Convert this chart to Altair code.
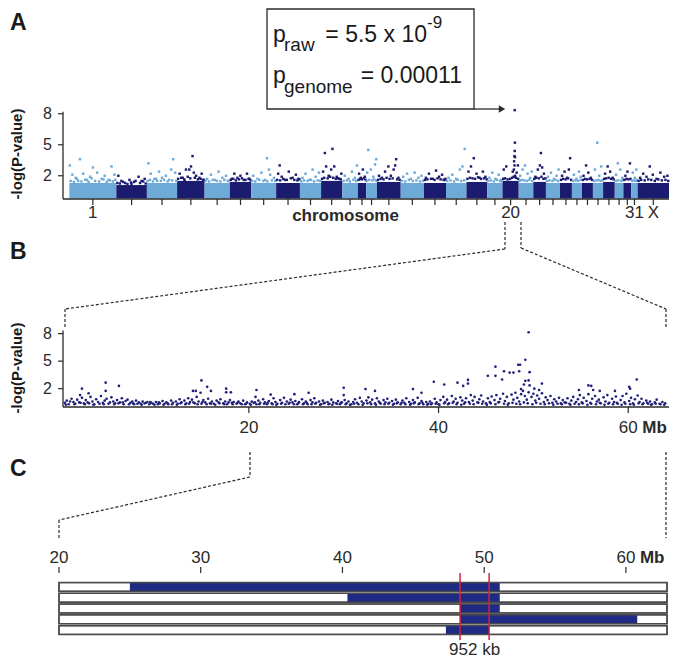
import altair as alt
import pandas as pd

FONT = "Liberation Sans, Arial, Helvetica, sans-serif"
LIGHT = "#6eaad8"
NAVY = "#1b1b70"
DOT = "#20207a"
BARBLUE = "#1f2a84"
RED = "#d0243a"
INK = "#2a2a2a"

# ---------------- Panel A : genome-wide scan ----------------
CHR_NAMES = ["1", "2", "3", "4", "5", "6", "7", "8", "9", "10", "11", "12", "13", "14", "15", "16",
             "17", "18", "19", "20", "21", "22", "23", "24", "25", "26", "27", "28", "29", "30", "31", "X"]
CHR_LEN = [185.8, 120.9, 119.5, 108.6, 99.7, 84.7, 98.5, 94.1, 83.6, 83.9, 61.3, 33.1, 42.6, 94.0, 91.6, 87.4,
           80.8, 82.5, 60.0, 64.2, 57.7, 49.9, 55.7, 47.0, 40.0, 43.1, 40.2, 46.2, 34.0, 31.3, 25.0, 124.1]
BAND_TOP = [1.3, 1.1, 1.3, 1.5, 1.3, 1.4, 1.3, 1.3, 1.3, 1.5, 1.3, 1.3, 1.3, 1.4, 1.3, 1.3,
            1.3, 1.4, 1.3, 1.5, 1.3, 1.4, 1.3, 1.3, 1.3, 1.3, 1.3, 1.4, 1.3, 1.3, 1.3, 1.3]
A_POINTS = {
    "1": [(2, 3.0), (42, 3.6), (93, 2.8), (167, 2.9), (12, 2.1), (25, 1.8), (55, 2.2), (70, 1.6), (110, 2.3),
          (128, 1.7), (140, 2.0), (155, 1.6), (178, 2.1), (35, 1.5), (82, 1.9)],
    "2": [(8, 2.0), (20, 1.5), (35, 1.3), (52, 1.6), (70, 1.4), (88, 1.9), (100, 1.5), (112, 1.7), (60, 1.2)],
    "3": [(6, 3.2), (104, 3.6), (15, 2.2), (30, 1.7), (48, 2.4), (60, 1.8), (75, 2.0), (88, 1.6), (96, 2.6),
          (112, 2.3), (40, 1.5)],
    "4": [(61, 3.9), (10, 2.2), (22, 1.8), (35, 2.6), (48, 2.6), (55, 2.9), (66, 2.3), (75, 2.0), (88, 1.8),
          (97, 2.2), (103, 1.6), (30, 1.5)],
    "5": [(10, 1.7), (25, 2.1), (40, 1.6), (55, 2.4), (70, 1.8), (85, 2.0), (95, 1.5)],
    "6": [(8, 1.7), (18, 2.2), (30, 1.8), (42, 2.0), (55, 1.6), (68, 2.2), (78, 1.7)],
    "7": [(62, 3.7), (8, 2.0), (25, 1.7), (40, 2.3), (55, 1.6), (75, 2.1), (90, 1.8), (70, 2.6)],
    "8": [(14, 3.0), (8, 2.2), (22, 1.9), (35, 1.6), (50, 2.4), (65, 1.8), (78, 2.1), (88, 1.7)],
    "9": [(10, 1.8), (22, 2.2), (38, 1.6), (50, 2.6), (62, 1.9), (75, 2.3)],
    "10": [(15, 4.2), (45, 4.6), (8, 2.4), (20, 2.9), (30, 2.0), (40, 2.6), (52, 2.9), (62, 1.9), (72, 1.7),
           (80, 2.2)],
    "11": [(10, 2.0), (25, 1.7), (38, 2.4), (50, 1.8), (58, 3.0)],
    "12": [(5, 2.2), (12, 1.8), (20, 2.6), (28, 1.9)],
    "13": [(8, 4.5), (40, 3.6), (4, 2.3), (18, 2.6), (28, 1.9), (35, 3.1)],
    "14": [(76, 3.6), (8, 2.0), (20, 1.8), (32, 2.4), (45, 2.9), (55, 2.0), (66, 2.6), (72, 3.0), (85, 1.8)],
    "15": [(10, 1.9), (25, 2.2), (40, 1.7), (55, 2.3), (70, 1.8), (82, 2.0)],
    "16": [(8, 1.8), (20, 2.2), (35, 1.7), (48, 2.5), (60, 1.9), (72, 2.1), (82, 1.6)],
    "17": [(74, 4.6), (10, 1.8), (25, 2.1), (40, 1.7), (55, 2.6), (65, 2.9)],
    "18": [(29, 3.7), (8, 2.4), (18, 2.9), (40, 2.2), (52, 1.8), (65, 2.4), (75, 1.9)],
    "19": [(8, 1.8), (20, 2.3), (32, 1.7), (45, 2.1), (55, 1.6)],
    "20": [(48.3, 8.35), (49.1, 5.2), (48.5, 4.4), (47.0, 3.9), (46.0, 3.4), (49.6, 3.8), (47.5, 3.0),
           (45.2, 2.6), (40.6, 2.4), (15.0, 2.9), (4.9, 2.6), (56.0, 2.3), (60.9, 3.0)],
    "21": [(6, 2.0), (15, 2.6), (25, 3.0), (35, 2.2), (45, 1.8), (52, 2.4)],
    "22": [(30, 4.2), (8, 1.9), (18, 2.6), (26, 3.0), (35, 2.8), (42, 2.2)],
    "23": [(8, 1.9), (20, 2.3), (32, 1.7), (42, 2.0), (50, 2.6)],
    "24": [(40, 3.7), (8, 2.0), (18, 2.4), (28, 1.8), (35, 2.6)],
    "25": [(8, 2.1), (18, 1.7), (28, 2.4), (35, 1.9)],
    "26": [(16, 3.0), (6, 2.0), (25, 2.3), (35, 1.8)],
    "27": [(17, 5.2), (8, 2.6), (25, 2.0), (33, 2.9)],
    "28": [(8, 2.2), (18, 2.9), (28, 2.4), (38, 1.8)],
    "29": [(12, 3.2), (5, 2.1), (22, 2.6), (30, 1.8)],
    "30": [(26, 3.2), (8, 2.0), (16, 2.4)],
    "31": [(6, 2.3), (14, 1.8), (20, 2.6)],
    "X": [(48, 2.9), (10, 1.8), (22, 2.2), (35, 1.9), (60, 2.1), (75, 1.7), (90, 2.3), (105, 1.9), (118, 2.0)],
}
# markers just above the dense band (the fuzzy band top)
A_FUZZ = {
    "1": [(5, 1.5), (18, 1.4), (30, 1.7), (48, 1.45), (63, 1.6), (76, 1.4), (88, 1.75), (102, 1.5), (118, 1.45),
          (135, 1.65), (148, 1.4), (160, 1.55), (172, 1.45), (182, 1.6)],
    "2": [(4, 1.3), (14, 1.25), (27, 1.4), (44, 1.2), (58, 1.35), (76, 1.5), (94, 1.3), (106, 1.45), (116, 1.25)],
    "3": [(3, 1.5), (12, 1.6), (24, 1.45), (36, 1.7), (55, 1.5), (68, 1.6), (82, 1.45), (100, 1.55), (116, 1.5)],
    "4": [(4, 1.7), (16, 1.8), (28, 1.65), (42, 1.9), (52, 1.75), (70, 1.8), (82, 1.65), (93, 1.7), (106, 1.6)],
    "5": [(5, 1.5), (18, 1.45), (32, 1.6), (48, 1.5), (62, 1.45), (78, 1.6), (92, 1.5)],
    "6": [(4, 1.6), (14, 1.7), (24, 1.55), (36, 1.65), (48, 1.75), (62, 1.6), (74, 1.7), (82, 1.55)],
    "7": [(4, 1.5), (16, 1.45), (32, 1.6), (48, 1.5), (64, 1.45), (82, 1.55), (95, 1.5)],
    "8": [(4, 1.6), (16, 1.55), (28, 1.7), (42, 1.6), (58, 1.75), (72, 1.6), (84, 1.55), (92, 1.65)],
    "9": [(5, 1.45), (16, 1.55), (30, 1.5), (44, 1.6), (56, 1.45), (70, 1.55), (80, 1.5)],
    "10": [(4, 1.7), (12, 1.8), (26, 1.75), (36, 1.9), (48, 1.8), (58, 1.7), (68, 1.75), (78, 1.65)],
    "11": [(5, 1.5), (18, 1.55), (30, 1.45), (44, 1.6), (55, 1.5)],
    "12": [(3, 1.6), (9, 1.7), (16, 1.65), (24, 1.75), (31, 1.6)],
    "13": [(2, 1.5), (12, 1.6), (24, 1.55), (32, 1.65), (40, 1.5)],
    "14": [(4, 1.6), (14, 1.7), (26, 1.65), (38, 1.8), (50, 1.7), (62, 1.75), (80, 1.65), (90, 1.6)],
    "15": [(5, 1.5), (18, 1.45), (32, 1.6), (48, 1.5), (62, 1.55), (76, 1.45), (88, 1.5)],
    "16": [(4, 1.6), (14, 1.65), (28, 1.7), (42, 1.6), (54, 1.75), (66, 1.65), (78, 1.6), (85, 1.7)],
    "17": [(5, 1.5), (18, 1.55), (32, 1.45), (46, 1.6), (60, 1.5), (72, 1.55)],
    "18": [(4, 1.7), (14, 1.8), (24, 1.75), (34, 1.7), (46, 1.85), (58, 1.7), (70, 1.75), (80, 1.65)],
    "19": [(4, 1.5), (14, 1.55), (26, 1.45), (38, 1.6), (50, 1.5), (57, 1.45)],
    "20": [(3, 1.7), (10, 1.75), (20, 1.65), (30, 1.7), (38, 1.8), (44, 1.9), (50, 2.0), (53, 1.8), (62, 1.7)],
    "21": [(4, 1.5), (12, 1.6), (22, 1.55), (32, 1.5), (42, 1.6), (54, 1.5)],
    "22": [(4, 1.7), (12, 1.8), (22, 1.75), (32, 1.9), (40, 1.7), (48, 1.75)],
    "23": [(4, 1.5), (14, 1.55), (26, 1.5), (38, 1.6), (48, 1.5)],
    "24": [(4, 1.6), (12, 1.7), (22, 1.65), (32, 1.75), (44, 1.6)],
    "25": [(4, 1.5), (14, 1.55), (24, 1.5), (34, 1.6)],
    "26": [(4, 1.6), (12, 1.7), (20, 1.65), (30, 1.7), (40, 1.6)],
    "27": [(4, 1.5), (14, 1.55), (22, 1.6), (30, 1.5), (38, 1.55)],
    "28": [(4, 1.7), (12, 1.75), (22, 1.8), (32, 1.7), (42, 1.65)],
    "29": [(4, 1.5), (14, 1.55), (26, 1.5), (32, 1.6)],
    "30": [(4, 1.6), (12, 1.7), (20, 1.65), (28, 1.7)],
    "31": [(3, 1.5), (10, 1.55), (18, 1.5), (23, 1.6)],
    "X": [(4, 1.5), (14, 1.6), (28, 1.55), (42, 1.65), (54, 1.6), (68, 1.5), (82, 1.65), (96, 1.55), (110, 1.6),
          (121, 1.5)],
}
A_LABELED = ["1", "20", "31", "X"]
A_YTICKS = [2, 5, 8]
A_XLABEL = "chromosome"
YTITLE = "-log(P-value)"

# ---------------- Panel B : chromosome 20 ----------------
B_BG = [
    (0.6, 0.45), (0.8, 0.7), (1.0, 0.3), (1.3, 0.9), (1.5, 0.55), (1.7, 0.35), (1.9, 0.8), (2.1, 0.5), (2.4, 1.0), (2.6, 0.4),
    (2.8, 0.75), (3.0, 0.5), (3.3, 1.1), (3.5, 0.6), (3.7, 0.3), (3.9, 0.85), (4.1, 0.55), (4.4, 1.2), (4.6, 0.45), (4.8, 0.7),
    (5.0, 0.9), (5.2, 0.35), (5.5, 1.05), (5.7, 0.6), (5.9, 0.4), (6.1, 0.75), (6.4, 0.5), (6.6, 0.95), (6.8, 0.3), (7.0, 0.65),
    (7.2, 0.8), (7.5, 0.45), (7.7, 0.6), (7.9, 0.3), (8.1, 0.7), (8.4, 0.5), (8.6, 0.35), (8.8, 0.6), (9.0, 0.4), (9.3, 0.55),
    (9.5, 0.3), (9.7, 0.45), (9.9, 0.35), (10.2, 0.55), (10.4, 0.3), (10.6, 0.4), (10.9, 0.65), (11.1, 0.35), (11.3, 0.5), (11.5, 0.3),
    (11.8, 0.7), (12.0, 0.45), (12.3, 0.6), (12.5, 0.35), (12.7, 0.85), (12.9, 0.5), (13.2, 0.7), (13.4, 0.4), (13.6, 0.95), (13.8, 0.55),
    (14.0, 0.8), (14.3, 0.4), (14.5, 1.1), (14.7, 0.6), (15.0, 0.35), (15.2, 0.75), (15.4, 0.5), (15.7, 0.9), (15.9, 0.4), (16.1, 0.6),
    (16.3, 0.35), (16.6, 0.7), (16.8, 0.5), (17.0, 0.85), (17.3, 0.4), (17.5, 0.6), (17.7, 0.3), (18.0, 0.75), (18.2, 0.45), (18.4, 0.55),
    (18.7, 0.35), (18.9, 0.6), (19.1, 0.4), (19.4, 0.7), (19.6, 0.3), (19.8, 0.5), (20.1, 0.35), (20.3, 0.6), (20.5, 0.45), (20.8, 0.3),
    (21.0, 0.7), (21.2, 0.45), (21.5, 0.85), (21.7, 0.5), (21.9, 0.3), (22.1, 0.65), (22.4, 0.4), (22.6, 0.95), (22.8, 0.55), (23.0, 0.35),
    (23.3, 0.75), (23.5, 0.45), (23.7, 1.0), (24.0, 0.6), (24.2, 0.35), (24.4, 0.8), (24.6, 0.5), (24.9, 0.65), (25.1, 0.3), (25.3, 0.55),
    (25.6, 0.85), (25.8, 0.4), (26.0, 0.6), (26.2, 0.3), (26.5, 0.75), (26.7, 0.5), (26.9, 0.95), (27.1, 0.45), (27.4, 0.6), (27.6, 0.3),
    (27.8, 0.7), (28.0, 0.45), (28.3, 0.55), (28.5, 0.35), (28.7, 0.8), (28.9, 0.5), (29.2, 0.4), (29.4, 0.65), (29.6, 0.3), (29.8, 0.5),
    (30.1, 0.75), (30.3, 0.4), (30.5, 0.6), (30.8, 0.3), (31.0, 0.55), (31.2, 0.85), (31.4, 0.45), (31.7, 1.0), (31.9, 0.6), (32.1, 0.4),
    (32.4, 0.7), (32.6, 1.05), (32.8, 0.5), (33.0, 0.8), (33.3, 0.4), (33.5, 0.95), (33.7, 0.6), (33.9, 0.35), (34.2, 0.75), (34.4, 0.5),
    (34.6, 0.9), (34.8, 0.45), (35.1, 0.65), (35.3, 0.35), (35.5, 0.8), (35.7, 0.5), (36.0, 0.3), (36.2, 0.7), (36.4, 0.45), (36.6, 0.95),
    (36.9, 0.55), (37.1, 0.35), (37.3, 0.75), (37.5, 0.5), (37.8, 1.0), (38.0, 0.4), (38.2, 0.65), (38.4, 0.3), (38.7, 0.55), (38.9, 0.35),
    (39.1, 0.6), (39.3, 0.4), (39.6, 0.9), (39.8, 0.5), (40.0, 0.3), (40.2, 0.75), (40.5, 1.1), (40.7, 0.55), (40.9, 0.8), (41.1, 0.4),
    (41.4, 1.2), (41.6, 0.6), (41.8, 0.9), (42.0, 0.45), (42.3, 1.05), (42.5, 0.7), (42.7, 0.35), (42.9, 0.95), (43.2, 0.55), (43.4, 1.3),
    (43.6, 0.7), (43.8, 1.1), (44.1, 0.5), (44.3, 0.85), (44.5, 1.25), (44.7, 0.6), (45.0, 0.4), (45.2, 0.95), (45.4, 0.55), (45.6, 1.15),
    (45.9, 0.75), (46.1, 1.3), (46.3, 0.5), (46.5, 0.9), (46.8, 1.45), (47.0, 0.65), (47.2, 1.1), (47.4, 0.4), (47.7, 1.35), (47.9, 0.8),
    (48.1, 1.55), (48.3, 1.0), (48.5, 0.6), (48.7, 1.4), (48.9, 1.75), (49.1, 1.2), (49.3, 0.8), (49.5, 1.6), (49.8, 1.1), (50.0, 1.45),
    (50.2, 0.7), (50.4, 1.25), (50.6, 0.9), (50.9, 1.5), (51.1, 0.55), (51.3, 1.05), (51.5, 0.75), (51.8, 1.2), (52.0, 0.45), (52.2, 0.85),
    (52.4, 0.6), (52.7, 1.0), (52.9, 0.4), (53.1, 0.75), (53.3, 0.5), (53.6, 0.95), (53.8, 0.35), (54.0, 0.7), (54.2, 1.1), (54.5, 0.55),
    (54.7, 0.85), (54.9, 1.3), (55.1, 0.5), (55.3, 1.0), (55.6, 0.65), (55.8, 1.4), (56.0, 0.45), (56.2, 0.9), (56.5, 1.2), (56.7, 0.6),
    (56.9, 0.8), (57.1, 0.4), (57.4, 1.05), (57.6, 0.6), (57.8, 1.3), (58.0, 0.45), (58.3, 0.9), (58.5, 0.55), (58.7, 1.15), (58.9, 0.35),
    (59.2, 0.75), (59.4, 1.2), (59.6, 0.5), (59.8, 1.45), (60.1, 0.65), (60.3, 1.0), (60.5, 0.4), (60.7, 0.85), (61.0, 1.25), (61.2, 0.55),
    (61.4, 0.9), (61.6, 0.4), (61.9, 0.7), (62.1, 0.35), (62.3, 0.6), (62.5, 0.3), (62.8, 0.5), (63.0, 0.8), (63.3, 0.35), (63.6, 0.55),
    (63.9, 0.4),
]
B_BG2 = [
    (0.7, 0.25), (1.15, 0.6), (1.6, 0.3), (2.25, 0.45), (2.7, 0.3), (3.15, 0.4), (3.6, 0.25), (4.25, 0.35), (4.7, 0.3), (5.35, 0.5),
    (5.8, 0.3), (6.25, 0.4), (6.7, 0.5), (7.35, 0.3), (7.8, 0.4), (8.25, 0.35), (8.7, 0.25), (9.15, 0.45), (9.6, 0.55), (10.05, 0.25),
    (10.5, 0.5), (11.0, 0.25), (11.45, 0.4), (11.9, 0.3), (12.4, 0.25), (12.8, 0.4), (13.3, 0.3), (13.7, 0.35), (14.15, 0.5), (14.6, 0.3),
    (15.1, 0.55), (15.55, 0.3), (16.0, 0.35), (16.45, 0.25), (16.9, 0.4), (17.4, 0.3), (17.85, 0.5), (18.3, 0.3), (18.8, 0.45), (19.25, 0.3),
    (19.7, 0.35), (20.2, 0.25), (20.65, 0.5), (21.1, 0.3), (21.6, 0.35), (22.0, 0.45), (22.5, 0.3), (22.9, 0.25), (23.4, 0.35), (23.85, 0.3),
    (24.3, 0.45), (24.75, 0.3), (25.2, 0.4), (25.7, 0.3), (26.1, 0.45), (26.6, 0.3), (27.0, 0.35), (27.5, 0.25), (27.9, 0.4), (28.4, 0.3),
    (28.8, 0.25), (29.3, 0.35), (29.7, 0.45), (30.2, 0.3), (30.65, 0.25), (31.1, 0.35), (31.55, 0.3), (32.0, 0.25), (32.5, 0.4), (32.9, 0.3),
    (33.4, 0.25), (33.8, 0.45), (34.3, 0.3), (34.7, 0.35), (35.2, 0.25), (35.6, 0.4), (36.1, 0.45), (36.5, 0.3), (37.0, 0.25), (37.4, 0.4),
    (37.9, 0.3), (38.3, 0.45), (38.8, 0.25), (39.2, 0.3), (39.7, 0.35), (40.1, 0.25), (40.6, 0.4), (41.0, 0.3), (41.5, 0.45), (41.9, 0.3),
    (42.4, 0.25), (42.8, 0.5), (43.3, 0.35), (43.7, 0.3), (44.2, 0.45), (44.6, 0.35), (45.1, 0.25), (45.5, 0.4), (46.0, 0.3), (46.4, 0.55),
    (46.9, 0.35), (47.3, 0.25), (47.8, 0.45), (48.2, 0.35), (48.6, 0.3), (49.0, 0.5), (49.4, 0.4), (49.9, 0.3), (50.3, 0.45), (50.75, 0.35),
    (51.2, 0.3), (51.65, 0.4), (52.1, 0.25), (52.55, 0.35), (53.0, 0.3), (53.45, 0.45), (53.9, 0.25), (54.35, 0.35), (54.8, 0.3), (55.2, 0.4),
    (55.7, 0.25), (56.1, 0.35), (56.6, 0.3), (57.0, 0.45), (57.5, 0.25), (57.9, 0.35), (58.4, 0.3), (58.8, 0.45), (59.3, 0.25), (59.7, 0.35),
    (60.2, 0.3), (60.6, 0.25), (61.1, 0.4), (61.5, 0.3), (62.0, 0.45), (62.4, 0.25), (62.9, 0.35), (63.4, 0.3), (63.8, 0.25),
]
B_HIGH = [
    (4.9, 2.65), (6.3, 2.3), (2.4, 2.0), (3.1, 1.5), (4.9, 1.75), (2.2, 1.3), (15.0, 2.9), (15.6, 2.2), (14.1, 1.75),
    (14.4, 1.75), (14.9, 1.55), (16.0, 1.75), (17.6, 2.0), (17.6, 1.6), (18.1, 1.6), (20.8, 1.85), (22.3, 1.35),
    (24.8, 1.4), (26.3, 1.55), (30.0, 2.1), (30.0, 1.3), (20.7, 1.1),
    (49.5, 8.15), (49.15, 5.15), (48.4, 4.6), (48.6, 4.6), (46.0, 4.4), (46.9, 3.9), (45.2, 3.4), (46.0, 3.4),
    (47.5, 3.75), (47.9, 3.75), (48.5, 3.9), (49.6, 3.8), (46.7, 3.0), (39.5, 2.75), (40.6, 2.45), (42.0, 2.65),
    (42.6, 2.3), (43.1, 2.95), (43.1, 2.55), (49.15, 2.85), (49.5, 2.9), (49.0, 2.45), (49.6, 2.35), (50.9, 2.55),
    (48.7, 1.95), (50.1, 2.0), (50.6, 1.85), (60.9, 3.0), (55.8, 2.35), (56.1, 2.3), (56.3, 1.85), (54.8, 1.85),
    (60.1, 2.2), (60.2, 2.0), (58.6, 1.75), (57.0, 1.75), (38.2, 1.55), (37.3, 1.95), (32.3, 1.95), (33.3, 1.75),
]
B_XTICKS = [20, 40, 60]
B_YTICKS = [2, 5, 8]
UNIT = "Mb"

# ---------------- Panel C : haplotype intervals ----------------
C_ROWS = [1, 2, 3, 4, 5]
C_SEG_START = [25.0, 40.35, 48.3, 48.3, 47.3]
C_SEG_END = [51.1, 51.1, 51.1, 60.8, 50.35]
C_MAP_START = 20.0
C_MAP_END = 62.9
C_XTICKS = [20, 30, 40, 50, 60]
C_BOUNDS = [48.3, 50.35]
C_INTERVAL_LABEL = "952 kb"

# ======================= build =======================
W = 662
HA, HB, HC = 214, 226, 211   # stacked panel heights (sum 651)

one = pd.DataFrame({"k": [0]})


def txt(s, x, y, size, weight="normal", align="left", baseline="alphabetic", angle=0):
    return alt.Chart(one).mark_text(text=s, fontSize=size, fontWeight=weight, align=align, baseline=baseline,
                                    angle=angle, font=FONT, color="#1a1a1a").encode(
        x=alt.value(x), y=alt.value(y))


def dashed(x1, y1, x2, y2):
    d = pd.DataFrame({"x1": x1, "y1": y1, "x2": x2, "y2": y2})
    return alt.Chart(d).mark_rule(color=INK, strokeWidth=1.2, strokeDash=[3, 2]).encode(
        x=alt.X("x1:Q", scale=None), y=alt.Y("y1:Q", scale=None), x2="x2:Q", y2="y2:Q")


# ---- A
starts = []
acc = 0.0
for L in CHR_LEN:
    starts.append(acc)
    acc += L
ends = [s + L for s, L in zip(starts, CHR_LEN)]
mids = [s + L / 2 for s, L in zip(starts, CHR_LEN)]
grp = ["odd" if i % 2 == 0 else "even" for i in range(len(CHR_NAMES))]

bands = pd.DataFrame({"start": starts, "end": ends, "top": BAND_TOP,
                      "bottom": [-0.2] * len(CHR_NAMES), "grp": grp})
rows = []
for i, c in enumerate(CHR_NAMES):
    for pos, val in A_FUZZ[c] + A_POINTS[c]:
        rows.append({"gx": starts[i] + pos, "v": val, "grp": grp[i]})
a_pts = pd.DataFrame(rows)
a_ticks = pd.DataFrame({"mid": mids, "chr": CHR_NAMES, "base": [-0.25] * len(CHR_NAMES),
                        "tip": [-0.83] * len(CHR_NAMES)})
a_lab = a_ticks[a_ticks["chr"].isin(A_LABELED)]
a_y = pd.DataFrame({"v": A_YTICKS, "x0": [-25] * 3, "x1": [-44.7] * 3})
a_frame = pd.DataFrame({"x0": [-25, -25], "x1": [-25, 2371], "y0": [-0.25, -0.25], "y1": [8.2, -0.25]})
a_title = pd.DataFrame({"x": [1092], "y": [-0.25], "t": [A_XLABEL]})

AX = alt.Scale(domain=[-25, 2371], range=[55, 661])
AY = alt.Scale(domain=[-0.25, 8.2], range=[191, 103.7])
COL = alt.Scale(domain=["odd", "even"], range=[LIGHT, NAVY])

A_band = alt.Chart(bands).mark_rect().encode(
    x=alt.X("start:Q", scale=AX, axis=None), x2="end:Q",
    y=alt.Y("bottom:Q", scale=AY, axis=None), y2="top:Q",
    color=alt.Color("grp:N", scale=COL, legend=None))
A_dots = alt.Chart(a_pts).mark_square(size=6, opacity=1).encode(
    x=alt.X("gx:Q", scale=AX, axis=None), y=alt.Y("v:Q", scale=AY, axis=None),
    color=alt.Color("grp:N", scale=COL, legend=None))
A_axes = alt.Chart(a_frame).mark_rule(color=INK, strokeWidth=1.3).encode(
    x=alt.X("x0:Q", scale=AX, axis=None), x2="x1:Q", y=alt.Y("y0:Q", scale=AY, axis=None), y2="y1:Q")
A_yt = alt.Chart(a_y).mark_rule(color=INK, strokeWidth=1.2).encode(
    y=alt.Y("v:Q", scale=AY, axis=None), x=alt.X("x0:Q", scale=AX, axis=None), x2="x1:Q")
A_ytl = alt.Chart(a_y).mark_text(align="right", baseline="middle", dx=-11, fontSize=16, font=FONT, color=INK).encode(
    y=alt.Y("v:Q", scale=AY, axis=None), x=alt.X("x0:Q", scale=AX, axis=None), text="v:Q")
A_xt = alt.Chart(a_ticks).mark_rule(color=INK, strokeWidth=1.2).encode(
    x=alt.X("mid:Q", scale=AX, axis=None), y=alt.Y("base:Q", scale=AY, axis=None), y2="tip:Q")
A_xtl = alt.Chart(a_lab).mark_text(baseline="middle", dy=14, fontSize=17, font=FONT, color=INK).encode(
    x=alt.X("mid:Q", scale=AX, axis=None), y=alt.Y("base:Q", scale=AY, axis=None), text="chr:N")
A_title = alt.Chart(a_title).mark_text(baseline="middle", dy=17, fontSize=17, fontWeight="bold", font=FONT,
                                       color=INK).encode(
    x=alt.X("x:Q", scale=AX, axis=None), y=alt.Y("y:Q", scale=AY, axis=None), text="t:N")

box = alt.Chart(one).mark_rect(fill="white", fillOpacity=0, stroke=INK, strokeWidth=1.3).encode(
    x=alt.value(259), x2=alt.value(466), y=alt.value(1), y2=alt.value(101))
arrow = alt.Chart(one).mark_rule(color=INK, strokeWidth=1.3).encode(
    x=alt.value(466), x2=alt.value(493), y=alt.value(101))
head = alt.Chart(one).mark_point(shape="triangle-right", filled=True, size=55, color=INK, opacity=1).encode(
    x=alt.value(494), y=alt.value(101))

panelA = alt.layer(
    A_band, A_dots, A_axes, A_yt, A_ytl, A_xt, A_xtl, A_title, box, arrow, head,
    txt("p", 265, 34, 23), txt("raw", 276, 43, 19), txt("= 5.5 x 10", 419, 34, 23, align="right"),
    txt("-9", 419, 20, 17),
    txt("p", 265, 75, 23), txt("genome", 276, 85, 19), txt("= 0.00011", 454, 75, 23, align="right"),
    txt("A", 2, 22, 23, "bold"),
    txt(YTITLE, 9, 146, 15, "bold", align="center", baseline="middle", angle=270),
).properties(width=W, height=HA)

# ---- B  (local y = global y - HA)
BX = alt.Scale(domain=[0.4, 64.3], range=[55, 661])
BY = alt.Scale(domain=[0, 8.35], range=[399 - HA, 322.4 - HA])
b_all = pd.DataFrame(B_BG + B_BG2 + B_HIGH, columns=["pos", "v"])
b_xt = pd.DataFrame({"t": B_XTICKS, "base": [0] * 3, "tip": [-0.65] * 3})
b_yt = pd.DataFrame({"v": B_YTICKS, "x0": [0.4] * 3, "x1": [-0.12] * 3})
b_frame = pd.DataFrame({"x0": [0.4, 0.4], "x1": [0.4, 64.3], "y0": [0, 0], "y1": [8.35, 0]})
b_unit = pd.DataFrame({"x": [B_XTICKS[-1]], "y": [0], "t": [UNIT]})

B_dots = alt.Chart(b_all).mark_circle(size=7, opacity=1, color=DOT).encode(
    x=alt.X("pos:Q", scale=BX, axis=None), y=alt.Y("v:Q", scale=BY, axis=None))
B_axes = alt.Chart(b_frame).mark_rule(color=INK, strokeWidth=1.3).encode(
    x=alt.X("x0:Q", scale=BX, axis=None), x2="x1:Q", y=alt.Y("y0:Q", scale=BY, axis=None), y2="y1:Q")
B_ytk = alt.Chart(b_yt).mark_rule(color=INK, strokeWidth=1.2).encode(
    y=alt.Y("v:Q", scale=BY, axis=None), x=alt.X("x0:Q", scale=BX, axis=None), x2="x1:Q")
B_ytl = alt.Chart(b_yt).mark_text(align="right", baseline="middle", dx=-11, fontSize=16, font=FONT, color=INK).encode(
    y=alt.Y("v:Q", scale=BY, axis=None), x=alt.X("x0:Q", scale=BX, axis=None), text="v:Q")
B_xtk = alt.Chart(b_xt).mark_rule(color=INK, strokeWidth=1.2).encode(
    x=alt.X("t:Q", scale=BX, axis=None), y=alt.Y("base:Q", scale=BY, axis=None), y2="tip:Q")
B_xtl = alt.Chart(b_xt).mark_text(baseline="middle", dy=21, fontSize=17, font=FONT, color=INK).encode(
    x=alt.X("t:Q", scale=BX, axis=None), y=alt.Y("base:Q", scale=BY, axis=None), text="t:Q")
B_unit = alt.Chart(b_unit).mark_text(align="left", baseline="middle", dx=14, dy=21, fontSize=17, fontWeight="bold",
                                     font=FONT, color=INK).encode(
    x=alt.X("x:Q", scale=BX, axis=None), y=alt.Y("y:Q", scale=BY, axis=None), text="t:N")

panelB = alt.layer(
    dashed([497, 497, 57, 513, 513, 658], [0, 27, 87, 0, 26, 87], [497, 57, 57, 513, 658, 658], [27, 87, 105, 26, 87, 105]),
    B_dots, B_axes, B_ytk, B_ytl, B_xtk, B_xtl, B_unit,
    txt("B", 2, 244 - HA, 23, "bold", baseline="middle"),
    txt(YTITLE, 9, 360 - HA, 15, "bold", align="center", baseline="middle", angle=270),
).properties(width=W, height=HB)

# ---- C  (local y = global y - HA - HB)
OFF = HA + HB
CX = alt.Scale(domain=[C_MAP_START, C_MAP_END], range=[51, 659])
CY = alt.Scale(type="band", domain=C_ROWS, range=[574 - OFF, 627 - OFF], paddingInner=0.18, paddingOuter=0.05)
c_rows = pd.DataFrame({"row": C_ROWS, "s": [C_MAP_START] * 5, "e": [C_MAP_END] * 5,
                       "ss": C_SEG_START, "se": C_SEG_END})
c_xt = pd.DataFrame({"t": C_XTICKS})
c_b = pd.DataFrame({"b": C_BOUNDS})
c_mid = pd.DataFrame({"m": [sum(C_BOUNDS) / 2], "lab": [C_INTERVAL_LABEL]})
c_unit = pd.DataFrame({"x": [C_XTICKS[-1]], "t": [UNIT]})

C_bg = alt.Chart(c_rows).mark_rect(fill="white", stroke="#4a4a4a", strokeWidth=1.5).encode(
    x=alt.X("s:Q", scale=CX, axis=None), x2="e:Q", y=alt.Y("row:O", scale=CY, axis=None))
C_seg = alt.Chart(c_rows).mark_rect(fill=BARBLUE).encode(
    x=alt.X("ss:Q", scale=CX, axis=None), x2="se:Q", y=alt.Y("row:O", scale=CY, axis=None))
C_out = alt.Chart(c_rows).mark_rect(fill="white", fillOpacity=0, stroke="#4a4a4a", strokeWidth=1.3).encode(
    x=alt.X("s:Q", scale=CX, axis=None), x2="e:Q", y=alt.Y("row:O", scale=CY, axis=None))
C_red = alt.Chart(c_b).mark_rule(color=RED, strokeWidth=1.5).encode(
    x=alt.X("b:Q", scale=CX, axis=None), y=alt.value(565 - OFF), y2=alt.value(632 - OFF))
C_lab = alt.Chart(c_mid).mark_text(baseline="middle", fontSize=17, font=FONT, color=INK).encode(
    x=alt.X("m:Q", scale=CX, axis=None), y=alt.value(642 - OFF), text="lab:N")
C_xtk = alt.Chart(c_xt).mark_rule(color=INK, strokeWidth=1.2).encode(
    x=alt.X("t:Q", scale=CX, axis=None), y=alt.value(559 - OFF), y2=alt.value(565 - OFF))
C_xtl = alt.Chart(c_xt).mark_text(baseline="middle", fontSize=17, font=FONT, color=INK).encode(
    x=alt.X("t:Q", scale=CX, axis=None), y=alt.value(550 - OFF), text="t:Q")
C_unit = alt.Chart(c_unit).mark_text(align="left", baseline="middle", dx=14, fontSize=17, fontWeight="bold",
                                     font=FONT, color=INK).encode(
    x=alt.X("x:Q", scale=CX, axis=None), y=alt.value(550 - OFF), text="t:N")

panelC = alt.layer(
    dashed([242, 242, 51, 658], [4, 29, 72, 4], [242, 51, 51, 658], [29, 72, 90, 90]),
    C_bg, C_seg, C_out, C_red, C_xtk, C_xtl, C_unit, C_lab,
    txt("C", 2, 461 - OFF, 23, "bold", baseline="middle"),
).properties(width=W, height=HC)

chart = alt.vconcat(panelA, panelB, panelC, spacing=0, bounds="flush").properties(
    padding=0
).configure_view(stroke=None)

chart.save("out.html", embed_options={"renderer": "svg", "actions": False})
